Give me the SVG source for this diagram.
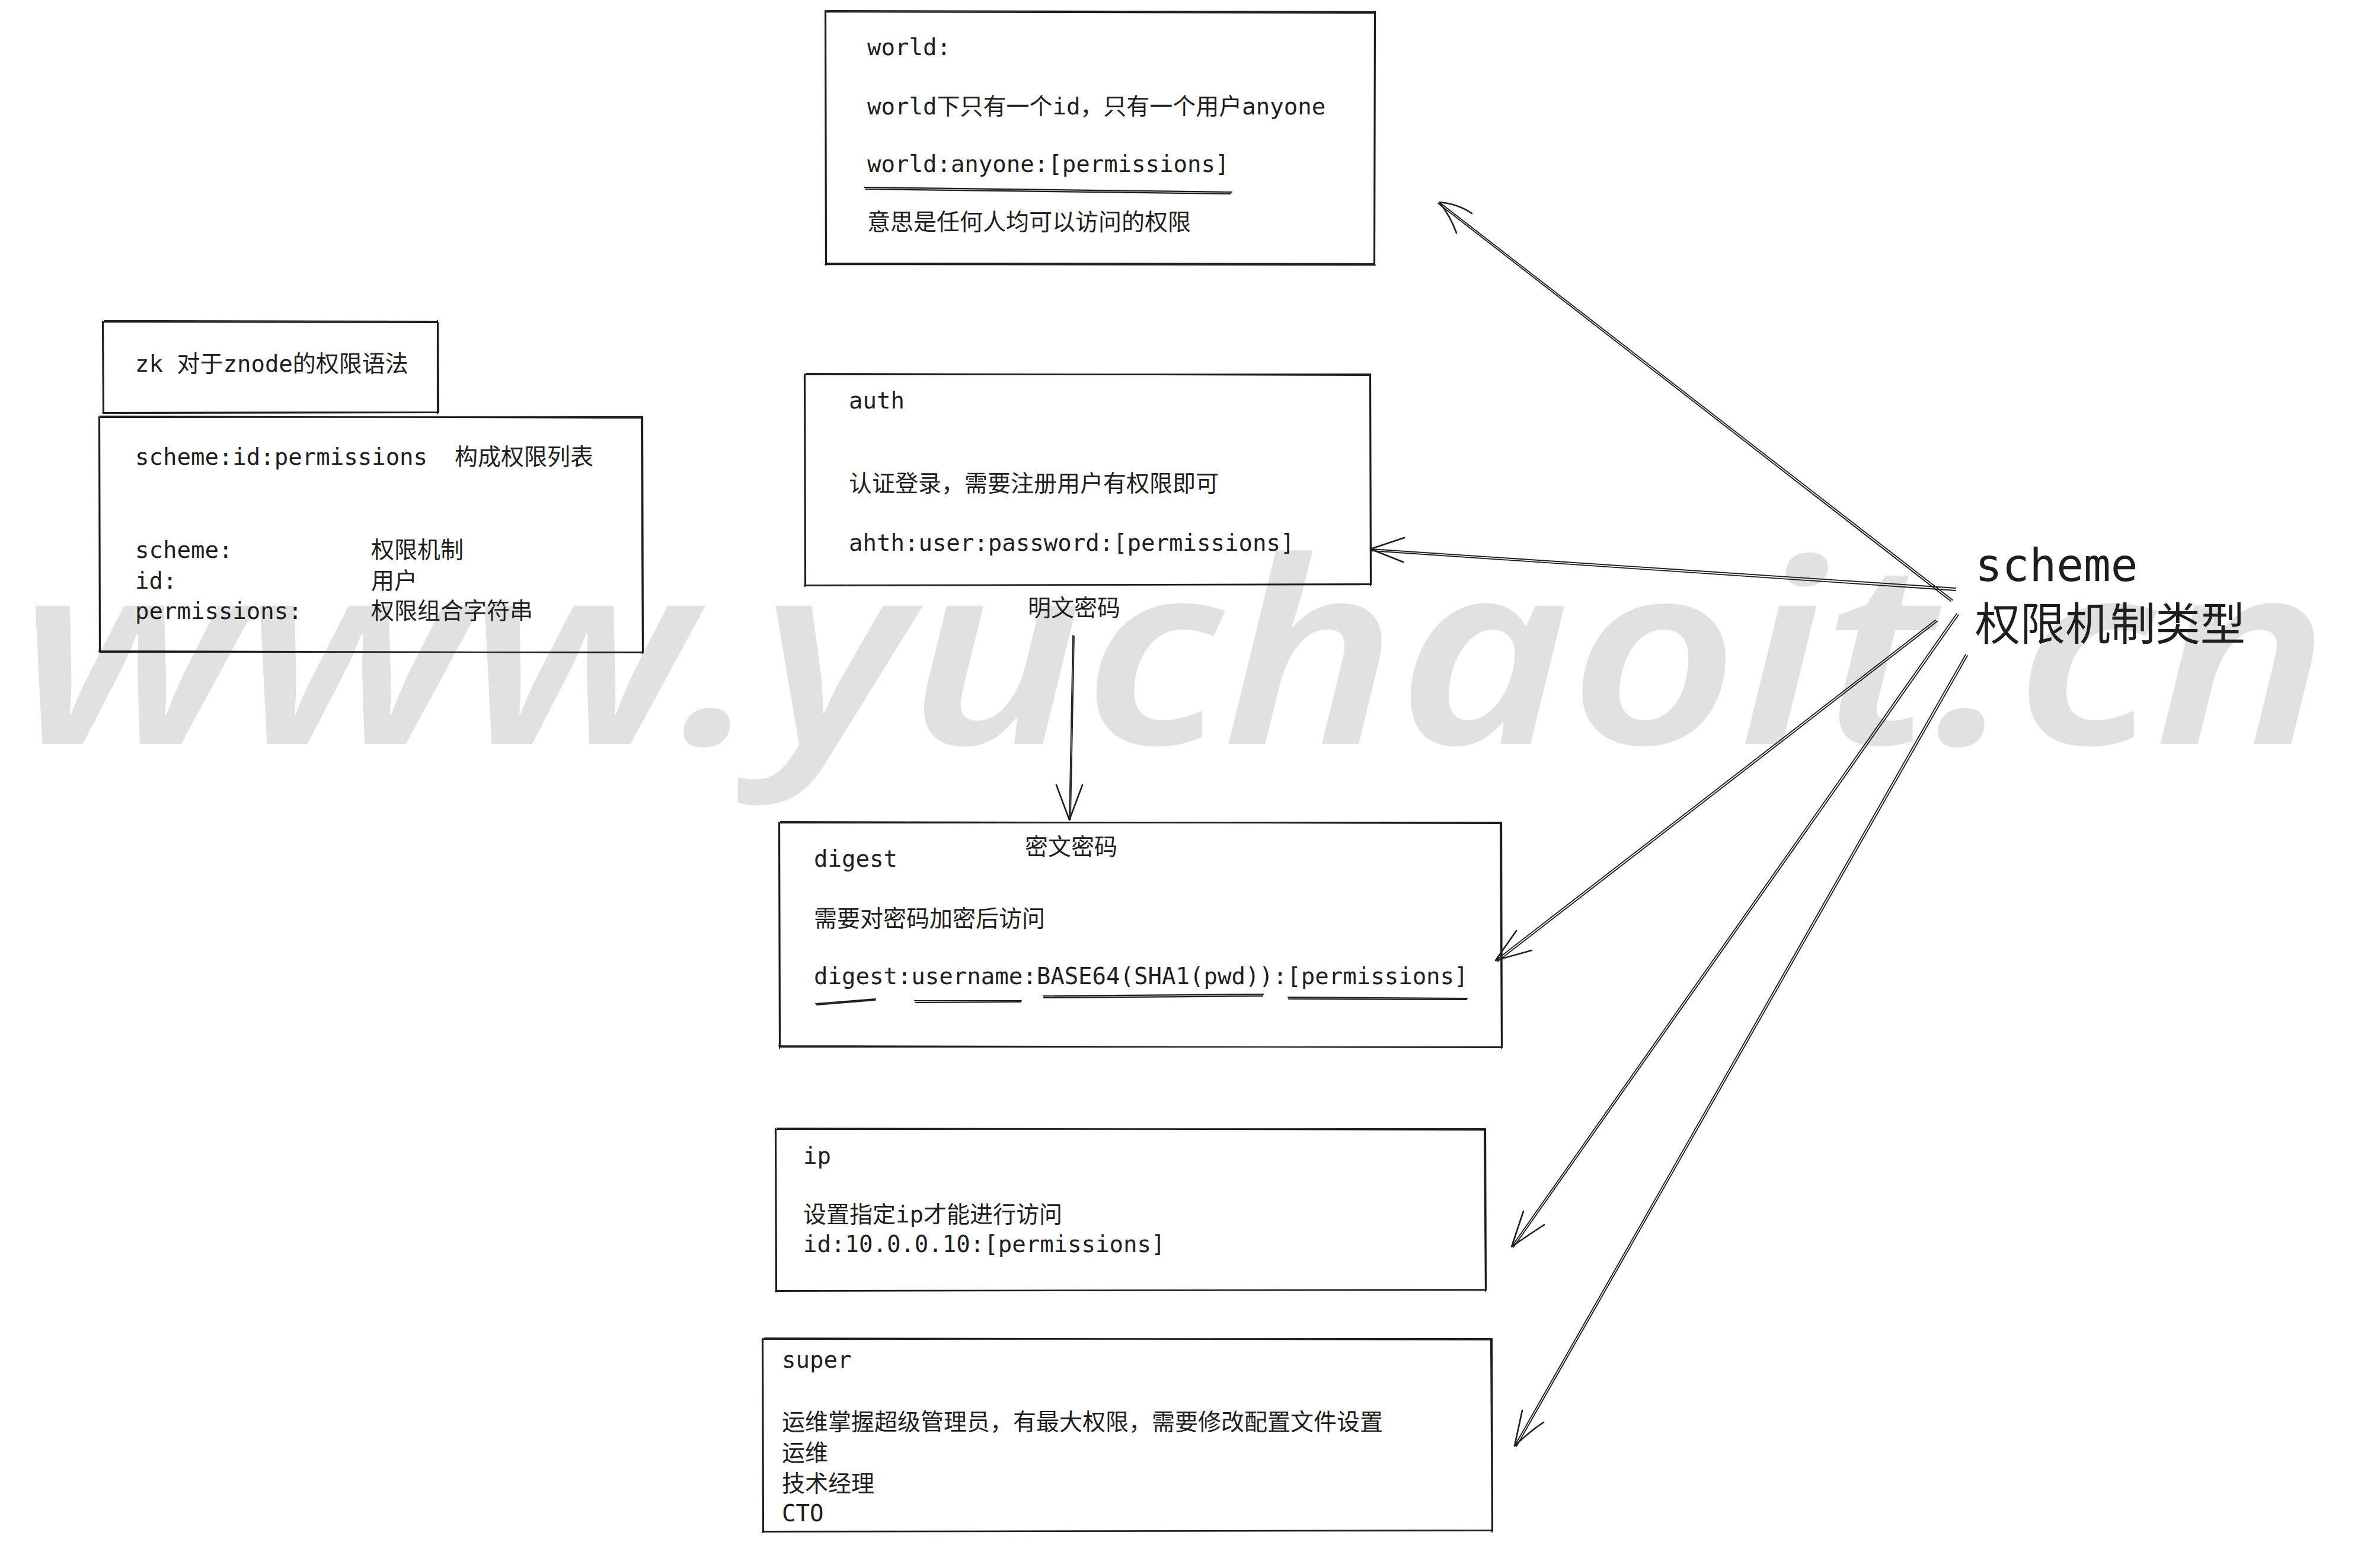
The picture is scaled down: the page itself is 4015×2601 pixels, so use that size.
<svg xmlns="http://www.w3.org/2000/svg" width="4015" height="2601" viewBox="0 0 4015 2601">
<style>
.t{font-family:"DejaVu Sans Mono","Liberation Mono","Noto Sans CJK SC",monospace;font-size:39px;fill:#1e1e1e}
.big{font-size:76px}
.b{fill:none;stroke:#1e1e1e;stroke-width:2.2;stroke-linecap:round;stroke-linejoin:round}
.c{fill:none;stroke:#1e1e1e;stroke-width:1.8;stroke-linecap:round;stroke-linejoin:round}
.h{fill:none;stroke:#1e1e1e;stroke-width:2.6;stroke-linecap:round;stroke-linejoin:round}
.wm{font-family:"Noto Sans","DejaVu Sans",sans-serif;font-size:430px;font-weight:600;font-style:italic;fill:#e1e1e1}
</style>
<rect width="4015" height="2601" fill="#ffffff"/>
<text class="wm" x="30" y="1255" textLength="3900" lengthAdjust="spacingAndGlyphs">www.yuchaoit.cn</text>

<g id="connectors">
  <g id="c-world">
    <path class="c" d="M3294 1012 L2428 341"/>
    <path class="c" d="M3291 1014 L2426 343"/>
    <path class="h" d="M2483 360 Q2460 344 2428 341 Q2447 365 2457 393"/>
  </g>
  <g id="c-auth">
    <path class="c" d="M3299 992 L2312 926"/>
    <path class="c" d="M3299 996 L2313 929"/>
    <path class="h" d="M2369 907 L2312 926 L2367 948"/>
  </g>
  <g id="c-digest">
    <path class="c" d="M3265 1046 L2523 1620"/>
    <path class="c" d="M3268 1048 L2526 1622"/>
    <path class="h" d="M2558 1570 L2523 1620 L2584 1603"/>
  </g>
  <g id="c-ip">
    <path class="c" d="M3301 1035 L2550 2103"/>
    <path class="c" d="M3304 1037 L2553 2104"/>
    <path class="h" d="M2570 2043 L2550 2103 Q2580 2082 2605 2066"/>
  </g>
  <g id="c-super">
    <path class="c" d="M3316 1104 L2555 2439"/>
    <path class="c" d="M3319 1106 L2558 2440"/>
    <path class="h" d="M2568 2379 L2555 2439 Q2580 2415 2604 2399"/>
  </g>
  <g id="c-auth-digest">
    <path class="c" d="M1810 1072 L1804 1383"/>
    <path class="c" d="M1812 1073 L1806 1382"/>
    <path class="h" d="M1782 1324 L1804 1383 L1826 1324"/>
  </g>
</g>

<g id="node-world">
  <path class="b" d="M1393 20 L2319 22 L2318 445 L1394 444 Z"/>
  <path class="b" d="M1395 18 L2320 20 M2320 19 L2319 446 M2320 447 L1392 446 M1393 447 L1392 18"/>
  <text class="t" x="1463" y="93">world:</text>
  <text class="t" x="1463" y="193">world下只有一个id，只有一个用户anyone</text>
  <text class="t" x="1463" y="290">world:anyone:[permissions]</text>
  <path class="b" d="M1458 316 L2078 324 M1460 319 L2076 327"/>
  <text class="t" x="1463" y="388">意思是任何人均可以访问的权限</text>
</g>

<g id="node-zk">
  <path class="b" d="M174 543 L739 544 L740 696 L175 697 Z"/>
  <path class="b" d="M176 541 L738 542 M738 541 L738 698 M739 695 L173 696 M174 697 L173 542"/>
  <text class="t" x="228" y="627">zk 对于znode的权限语法</text>
</g>

<g id="node-syntax">
  <path class="b" d="M168 704 L1084 703 L1085 1100 L169 1100 Z"/>
  <path class="b" d="M170 702 L1083 705 M1082 703 L1084 1102 M1085 1101 L167 1098 M168 1100 L167 702"/>
  <text class="t" x="228" y="784">scheme:id:permissions</text>
  <text class="t" x="767" y="784">构成权限列表</text>
  <text class="t" x="228" y="941">scheme:</text>
  <text class="t" x="626" y="941">权限机制</text>
  <text class="t" x="228" y="993">id:</text>
  <text class="t" x="626" y="993">用户</text>
  <text class="t" x="228" y="1044">permissions:</text>
  <text class="t" x="626" y="1044">权限组合字符串</text>
</g>

<g id="node-auth">
  <path class="b" d="M1358 632 L2312 631 L2313 986 L1359 987 Z"/>
  <path class="b" d="M1360 630 L2311 633 M2311 632 L2312 988 M2313 985 L1357 988 M1358 989 L1357 631"/>
  <text class="t" x="1432" y="689">auth</text>
  <text class="t" x="1432" y="829">认证登录，需要注册用户有权限即可</text>
  <text class="t" x="1432" y="929">ahth:user:password:[permissions]</text>
</g>

<g id="label-plain">
  <text class="t" x="1812" y="1039" text-anchor="middle">明文密码</text>
</g>

<g id="node-digest">
  <path class="b" d="M1315 1388 L2533 1387 L2534 1766 L1316 1766 Z"/>
  <path class="b" d="M1317 1386 L2532 1389 M2531 1388 L2533 1768 M2534 1767 L1314 1764 M1315 1768 L1314 1387"/>
  <text class="t" x="1807" y="1442" text-anchor="middle">密文密码</text>
  <text class="t" x="1373" y="1462">digest</text>
  <text class="t" x="1373" y="1563">需要对密码加密后访问</text>
  <text class="t" x="1373" y="1660">digest:username:BASE64(SHA1(pwd)):[permissions]</text>
  <path class="b" d="M1376 1693 L1477 1685 M1378 1695 L1476 1687"/>
  <path class="b" d="M1543 1688 L1723 1688 M1545 1691 L1722 1690"/>
  <path class="b" d="M1760 1680 L2131 1677 M1761 1683 L2130 1680"/>
  <path class="b" d="M2173 1682 L2475 1684 M2174 1685 L2474 1686"/>
</g>

<g id="node-ip">
  <path class="b" d="M1309 1905 L2506 1904 L2507 2176 L1310 2177 Z"/>
  <path class="b" d="M1311 1903 L2505 1906 M2504 1905 L2506 2178 M2507 2175 L1308 2178 M1309 2179 L1308 1904"/>
  <text class="t" x="1355" y="1963">ip</text>
  <text class="t" x="1355" y="2062">设置指定ip才能进行访问</text>
  <text class="t" x="1355" y="2112">id:10.0.0.10:[permissions]</text>
</g>

<g id="node-super">
  <path class="b" d="M1287 2259 L2517 2258 L2518 2582 L1288 2583 Z"/>
  <path class="b" d="M1289 2257 L2516 2260 M2515 2259 L2517 2584 M2518 2581 L1286 2584 M1287 2585 L1286 2258"/>
  <text class="t" x="1319" y="2307">super</text>
  <text class="t" x="1319" y="2412">运维掌握超级管理员，有最大权限，需要修改配置文件设置</text>
  <text class="t" x="1319" y="2464">运维</text>
  <text class="t" x="1319" y="2516">技术经理</text>
  <text class="t" x="1319" y="2566">CTO</text>
</g>

<g id="node-scheme">
  <text class="t big" x="3332" y="980">scheme</text>
  <text class="t big" x="3332" y="1080">权限机制类型</text>
</g>
</svg>
